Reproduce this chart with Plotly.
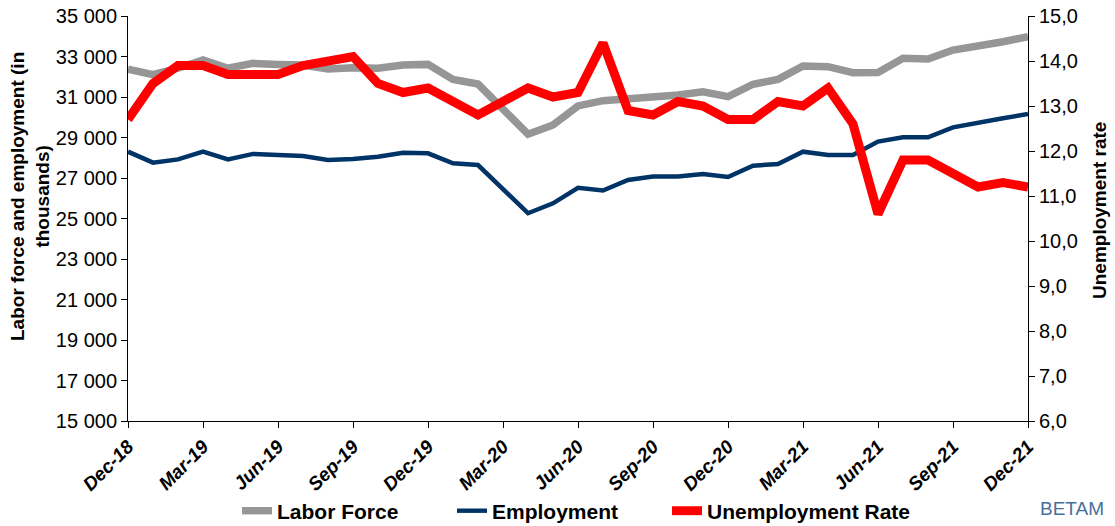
import plotly.graph_objects as go

months = []
mnames = ["Jan", "Feb", "Mar", "Apr", "May", "Jun", "Jul", "Aug", "Sep", "Oct", "Nov", "Dec"]
months.append("Dec-18")
for yr in (19, 20, 21):
    for m in mnames:
        months.append(f"{m}-{yr}")

labor_force = [32380, 32100, 32420, 32830, 32420, 32660, 32610, 32580, 32380, 32450, 32420, 32580,
               32610, 31870, 31640, 30360, 29160, 29620, 30560, 30820, 30890, 30990, 31100, 31260,
               31020, 31630, 31870, 32530, 32500, 32200, 32210, 32910, 32880, 33320, 33480, 33730, 33980]
employment = [28300, 27760, 27920, 28300, 27920, 28190, 28140, 28090, 27890, 27940, 28050, 28250,
              28220, 27730, 27640, 26440, 25260, 25750, 26520, 26380, 26900, 27070, 27070, 27200,
              27050, 27610, 27690, 28300, 28140, 28140, 28800, 29010, 29010, 29500, 29700, 29950, 30160]
unemployment = [12.7, 13.5, 13.9, 13.9, 13.7, 13.7, 13.7, 13.9, 14.0, 14.1, 13.5, 13.3,
                13.4, 13.1, 12.8, 13.1, 13.4, 13.2, 13.3, 14.4, 12.9, 12.8, 13.1, 13.0,
                12.7, 12.7, 13.1, 13.0, 13.4, 12.6, 10.6, 11.8, 11.8, 11.5, 11.2, 11.3, 11.2]

tick_labels = months[::3]
left_ticks = list(range(15000, 35001, 2000))
left_tick_text = [f"{v // 1000} {v % 1000:03d}" for v in left_ticks]
right_ticks = [6, 7, 8, 9, 10, 11, 12, 13, 14, 15]
right_tick_text = [f"{v},0" for v in right_ticks]

x = list(range(len(months)))

# plot area in screen pixels: x 128..1028, y 16..421
PL, PR, PT, PB = 128, 1028, 16, 421
W, H = 1115, 526


def px_x(sx):
    return (sx - PL) / (PR - PL)


def px_y(sy):
    return (PB - sy) / (PB - PT)


fig = go.Figure()
fig.add_trace(go.Scatter(x=x, y=labor_force, name="Labor Force", mode="lines",
                         line=dict(color="#969696", width=7.5)))
fig.add_trace(go.Scatter(x=x, y=employment, name="Employment", mode="lines",
                         line=dict(color="#003366", width=4.5)))
fig.add_trace(go.Scatter(x=x, y=unemployment, name="Unemployment Rate", mode="lines",
                         line=dict(color="#FF0000", width=9), yaxis="y2", legendwidth=240))

font_family = "Liberation Sans, Arial, sans-serif"

fig.update_layout(
    width=W, height=H,
    margin=dict(l=PL, r=W - PR, t=PT, b=H - PB, autoexpand=False),
    plot_bgcolor="white", paper_bgcolor="white",
    font=dict(family=font_family, color="black", size=20),
    showlegend=True,
    legend=dict(orientation="h", x=px_x(237), xanchor="left", y=px_y(511), yanchor="middle",
                font=dict(size=21, weight="bold"), tracegroupgap=0, entrywidth=170,
                bgcolor="rgba(0,0,0,0)"),
    xaxis=dict(
        range=[0, len(months) - 1],
        tickmode="array", tickvals=x[::3], ticktext=tick_labels,
        tickangle=-45, ticks="outside", ticklen=6, tickcolor="black",
        showline=True, linecolor="black", linewidth=1, showgrid=False, zeroline=False,
        tickfont=dict(size=19, weight="bold", style="italic"),
    ),
    yaxis=dict(
        range=[15000, 35000], tickmode="array", tickvals=left_ticks, ticktext=left_tick_text,
        ticks="outside", ticklen=6, tickcolor="black", ticklabeloverflow="allow",
        showline=True, linecolor="black", linewidth=1, showgrid=False, zeroline=False,
        tickfont=dict(size=20),
    ),
    yaxis2=dict(
        range=[6, 15], overlaying="y", side="right", tickmode="array",
        tickvals=right_ticks, ticktext=right_tick_text, ticklabeloverflow="allow",
        ticks="outside", ticklen=6, tickcolor="black",
        showline=True, linecolor="black", linewidth=1, showgrid=False, zeroline=False,
        tickfont=dict(size=20),
    ),
    annotations=[
        dict(text="Labor force and employment (in<br>thousands)", textangle=-90,
             x=px_x(30), y=px_y(197), xref="paper", yref="paper", showarrow=False,
             xanchor="center", yanchor="middle", align="center",
             font=dict(size=19, weight="bold")),
        dict(text="Unemployment rate", textangle=-90,
             x=px_x(1099), y=px_y(211), xref="paper", yref="paper", showarrow=False,
             xanchor="center", yanchor="middle",
             font=dict(size=19, weight="bold")),
        dict(text="BETAM", x=px_x(1106), y=px_y(521), xref="paper", yref="paper",
             showarrow=False, xanchor="right", yanchor="bottom",
             font=dict(size=19, color="#4a6e9a")),
    ],
)

fig.write_html("out.html", config={"displayModeBar": False},
               post_script="document.body.style.margin='0';")
